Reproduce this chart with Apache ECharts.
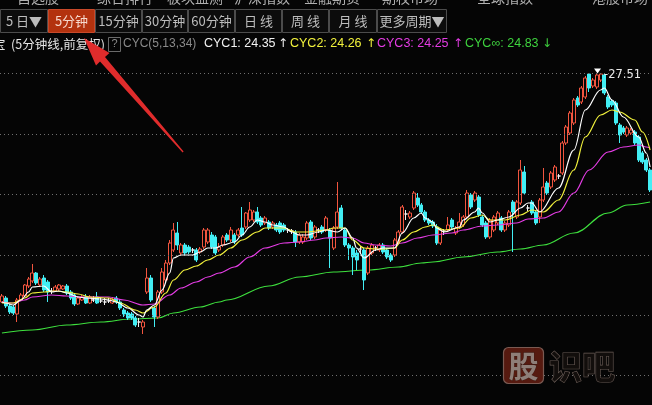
<!DOCTYPE html>
<html><head><meta charset="utf-8">
<script src="https://cdn.jsdelivr.net/npm/echarts@6/dist/echarts.min.js"></script>
<style>html,body{margin:0;padding:0;background:#050505;overflow:hidden}#c{width:652px;height:405px}</style>
</head><body><div id="c"></div>
<script>
// ---------- texts ----------
const topMenu = ['自选股','综合排行','板块监测','沪深指数','金融期货','期权市场','全球指数','港股市场'];
const periodTabs = ['5 日▼','5分钟','15分钟','30分钟','60分钟','日 线','周 线','月 线','更多周期▼'];
const selectedTab = '5分钟';
const stockTail = '宝';
const titleText = '(5分钟线,前复权)';
const indicatorName = 'CYC(5,13,34)';
const cycLegend = [['CYC1: 24.35','↑'],['CYC2: 24.26','↑'],['CYC3: 24.25','↑'],['CYC∞: 24.83','↓']];
const highLabel = '27.51';
const watermark = ['股','识吧'];

// ---------- candles: [open, close, low, high] ----------
const candles = [
[25.22,25.28,25.21,25.30],[25.26,25.18,25.16,25.28],[25.18,25.12,25.10,25.20],[25.17,25.11,25.09,25.19],
[25.10,25.24,25.02,25.26],[25.24,25.29,25.23,25.31],[25.28,25.39,25.27,25.40],[25.38,25.45,25.36,25.47],
[25.43,25.51,25.41,25.60],[25.51,25.41,25.39,25.52],[25.39,25.45,25.37,25.47],[25.46,25.34,25.32,25.49],
[25.42,25.32,25.22,25.44],[25.33,25.33,25.30,25.36],[25.33,25.37,25.32,25.39],[25.35,25.39,25.33,25.40],
[25.35,25.38,25.34,25.39],[25.38,25.31,25.29,25.40],[25.32,25.26,25.24,25.34],[25.29,25.20,25.18,25.31],
[25.20,25.26,25.19,25.28],[25.24,25.27,25.23,25.29],[25.27,25.21,25.20,25.30],[25.21,25.27,25.20,25.29],
[25.24,25.24,25.22,25.28],[25.27,25.21,25.20,25.32],[25.23,25.23,25.21,25.27],[25.22,25.22,25.19,25.26],
[25.23,25.23,25.21,25.26],
[25.21,25.25,25.20,25.27],[25.26,25.22,25.20,25.28],[25.22,25.16,25.14,25.25],[25.14,25.10,25.07,25.16],
[25.11,25.06,25.04,25.13],[25.10,25.06,25.04,25.12],[25.06,24.99,24.97,25.08],[25.02,25.02,24.97,25.06],
[24.97,25.02,24.90,25.04],[25.32,25.46,25.30,25.56],[25.46,25.24,25.22,25.49],[25.16,25.07,24.97,25.18],
[25.07,25.32,25.05,25.34],[25.32,25.52,25.30,25.56],[25.44,25.61,25.42,25.64],[25.61,25.81,25.59,25.84],
[25.74,25.94,25.72,26.01],[25.91,25.79,25.74,26.02],[25.71,25.79,25.69,25.81],[25.79,25.71,25.68,25.81],
[25.77,25.72,25.70,25.79],[25.74,25.74,25.71,25.76],[25.74,25.64,25.62,25.76],[25.72,25.75,25.70,25.77],
[25.77,25.94,25.75,25.96],[25.82,25.94,25.80,25.96],[25.89,25.77,25.75,25.92],[25.87,25.71,25.69,25.89],
[25.74,25.77,25.72,25.81],[25.79,25.87,25.77,25.89],[25.89,25.84,25.82,25.91],[25.84,25.94,25.82,25.97],
[25.89,25.82,25.80,25.91],[25.89,25.94,25.87,25.96],[25.96,25.89,25.87,26.17],[25.97,26.11,25.95,26.12],
[26.04,26.14,26.02,26.22],[26.04,26.12,26.02,26.14],[26.12,26.02,26.00,26.17],[26.06,25.99,25.97,26.08],
[26.01,26.06,25.99,26.08],[26.02,25.96,25.94,26.04],[25.97,26.01,25.95,26.03],[25.99,25.94,25.92,26.01],
[26.01,25.92,25.90,26.03],[25.99,25.94,25.92,26.01],[25.94,25.94,25.91,25.96],[25.93,25.93,25.90,25.95],
[25.92,25.82,25.77,25.94],[25.82,25.89,25.80,25.91],[25.82,25.87,25.80,25.90],[25.86,26.01,25.84,26.03],
[26.02,25.86,25.84,26.04],[25.87,25.97,25.85,25.99],[25.94,25.94,25.91,25.96],[25.97,25.92,25.90,25.99],
[25.94,26.06,25.92,26.08],[25.94,25.86,25.56,25.96],[25.76,25.96,25.74,25.98],[25.97,26.12,25.95,26.42],
[26.16,25.96,25.94,26.19],[25.94,25.79,25.77,25.96],[25.79,25.76,25.64,25.81],[25.76,25.67,25.49,25.78],
[25.71,25.64,25.54,25.74],[25.75,25.75,25.71,25.78],[25.74,25.44,25.34,25.76],[25.51,25.76,25.49,25.78],
[25.71,25.79,25.69,25.81],[25.76,25.76,25.73,25.78],[25.74,25.79,25.72,25.81],[25.79,25.72,25.70,25.81],
[25.74,25.67,25.65,25.76],[25.69,25.64,25.62,25.71],[25.69,25.84,25.67,25.86],[25.82,25.92,25.80,25.94],
[25.92,26.17,25.90,26.19],[26.10,26.10,26.04,26.14],[26.07,26.11,26.05,26.13],[26.16,26.31,26.14,26.33],
[26.26,26.19,26.17,26.31],[26.19,26.12,26.10,26.21],[26.12,26.04,26.02,26.14],[26.04,26.01,25.99,26.06],
[26.02,25.98,25.96,26.04],[25.97,25.81,25.79,26.00],[25.81,25.94,25.79,25.96],[25.93,25.93,25.89,25.95],
[25.94,25.99,25.92,26.07],[26.04,25.97,25.95,26.06],[25.91,25.96,25.89,25.98],[25.97,26.02,25.95,26.11],
[25.99,26.07,25.97,26.09],[26.07,26.31,26.05,26.34],[26.29,26.17,26.15,26.31],[26.24,26.31,26.22,26.33],
[26.27,26.09,26.07,26.29],[26.07,25.99,25.97,26.09],[26.01,25.87,25.85,26.03],[25.87,26.04,25.85,26.06],
[25.94,26.07,25.92,26.09],[26.01,26.11,25.99,26.13],[26.06,25.94,25.92,26.08],[25.94,26.01,25.92,26.03],
[25.99,26.12,25.97,26.14],[26.22,26.12,25.72,26.24],[26.07,26.22,26.05,26.24],[26.21,26.54,26.19,26.64],
[26.52,26.31,26.29,26.58],[26.16,26.16,26.13,26.19],[26.22,26.11,26.09,26.24],[26.12,26.01,25.99,26.14],
[26.07,26.24,26.01,26.26],[26.24,26.37,26.22,26.56],[26.41,26.31,26.29,26.43],[26.37,26.51,26.35,26.53],
[26.44,26.57,26.42,26.59],[26.48,26.48,26.45,26.50],[26.51,26.81,26.49,26.83],[26.81,26.97,26.79,26.99],
[26.91,27.11,26.89,27.13],[27.01,27.24,26.99,27.26],[27.26,27.19,27.17,27.28],[27.22,27.36,27.20,27.38],
[27.27,27.46,27.25,27.48],[27.50,27.36,27.32,27.50],[27.38,27.44,27.36,27.46],[27.37,27.49,27.35,27.50],
[27.44,27.50,27.42,27.51],[27.49,27.31,27.29,27.50],[27.27,27.17,27.15,27.29],[27.23,27.19,27.17,27.25],
[27.21,27.01,26.99,27.23],[26.99,26.89,26.81,27.01],[26.96,26.92,26.90,26.98],[26.89,26.96,26.87,26.98],
[26.91,26.94,26.89,26.96],[26.92,26.81,26.79,26.94],[26.87,26.64,26.62,26.89],[26.71,26.62,26.60,26.73],
[26.64,26.54,26.52,26.66],[26.54,26.34,26.32,26.56]
];

// ---------- indicator lines: [barIndex, value] ----------
const cyc1 = [[0,25.22],[1,25.21],[3,25.19],[5,25.24],[7,25.32],[8,25.37],[11,25.38],[13,25.32],[15,25.33],[17,25.31],[20,25.27],[22,25.26],[26,25.25],[28,25.24],[30,25.22],[33,25.16],[36,25.09],[37,25.07],[38,25.14],[40,25.19],[42,25.34],[44,25.51],[45,25.66],[47,25.69],[50,25.69],[52,25.72],[54,25.76],[56,25.76],[58,25.79],[61,25.82],[63,25.89],[65,25.97],[67,26.04],[69,26.02],[71,25.99],[74,25.97],[76,25.92],[78,25.89],[80,25.89],[83,25.92],[85,25.94],[88,25.92],[90,25.96],[92,25.86],[93,25.76],[95,25.66],[98,25.74],[100,25.76],[103,25.76],[105,25.91],[108,26.06],[110,26.11],[111,26.06],[113,26.02],[114,25.96],[116,25.92],[120,25.97],[121,26.04],[124,26.12],[125,26.16],[126,26.11],[128,26.02],[130,26.04],[133,26.07],[136,26.16],[138,26.21],[139,26.21],[141,26.12],[146,26.36],[150,26.74],[153,27.14],[157,27.34],[158,27.36],[160,27.24],[163,27.07],[167,26.87],[169,26.71],[170,26.57]];
const cyc2 = [[0,25.21],[3,25.21],[6,25.26],[8,25.31],[11,25.32],[14,25.33],[17,25.32],[20,25.30],[23,25.27],[28,25.26],[31,25.21],[35,25.14],[37,25.11],[40,25.17],[43,25.31],[45,25.44],[48,25.54],[51,25.58],[54,25.64],[57,25.69],[60,25.76],[63,25.84],[67,25.92],[69,25.96],[74,25.96],[77,25.92],[80,25.92],[85,25.94],[87,25.96],[90,25.96],[92,25.84],[95,25.76],[98,25.75],[100,25.75],[103,25.76],[105,25.84],[108,25.92],[111,25.97],[113,25.99],[116,25.94],[120,25.96],[123,26.06],[126,26.09],[128,26.04],[132,26.04],[136,26.09],[139,26.14],[142,26.12],[146,26.24],[150,26.54],[153,26.87],[157,27.09],[160,27.14],[162,27.12],[166,27.04],[168,26.92],[170,26.74]];
const cyc3 = [[0,25.22],[3,25.21],[6,25.24],[8,25.27],[13,25.29],[17,25.28],[21,25.27],[28,25.27],[32,25.24],[37,25.19],[40,25.20],[44,25.29],[47,25.36],[51,25.42],[54,25.47],[57,25.51],[61,25.57],[65,25.67],[69,25.76],[74,25.81],[78,25.82],[82,25.84],[85,25.86],[89,25.87],[92,25.86],[95,25.81],[98,25.79],[102,25.78],[105,25.81],[109,25.86],[113,25.89],[118,25.91],[121,25.94],[126,25.98],[130,25.99],[135,26.01],[138,26.05],[142,26.06],[146,26.12],[150,26.31],[154,26.54],[159,26.72],[163,26.77],[167,26.79],[169,26.77],[170,26.76]];
const cycInf = [[0,24.91],[8,24.94],[17,24.99],[26,25.02],[34,25.05],[41,25.06],[45,25.11],[52,25.17],[57,25.22],[59,25.24],[70,25.38],[78,25.47],[87,25.52],[96,25.54],[104,25.57],[110,25.61],[113,25.62],[121,25.67],[130,25.72],[136,25.75],[142,25.79],[150,25.91],[159,26.11],[164,26.19],[170,26.22]];

// ---------- build ----------
const categories = candles.map((d, i) => {
  const slot = i % 48, m = slot < 24 ? 9*60+35 + slot*5 : 13*60+5 + (slot-24)*5;
  return String(Math.floor(m/60)).padStart(2,'0') + ':' + String(m%60).padStart(2,'0');
});
let highIdx = 0;
candles.forEach((d, i) => { if (d[3] > candles[highIdx][3]) highIdx = i; });
const highVal = candles[highIdx][3];

const yMin = 24.486, yMax = 28.114, gridStep = 0.604;
const gridLevels = [];
for (let k = 0; k < 6; k++) gridLevels.push(+(yMin + k * gridStep).toFixed(3));

const UP = '#f2553f', DOWN = '#42eef4';
const cjk = '"Noto Sans CJK SC"';
const latin = '"Liberation Sans", "Noto Sans CJK SC"';

function mkLine(data, color, z, extra) {
  return Object.assign({ type: 'line', data, smooth: 0.35, smoothMonotone: 'x', showSymbol: false, symbol: 'none',
    lineStyle: { color, width: 1.2 }, z, silent: true, animation: false }, extra || {});
}

// graphic header
const g = [];
g.push({ type: 'rect', shape: { x: 0, y: 0, width: 652, height: 33 }, style: { fill: '#050505' }, z: 100 });
const menuX = [38, 125, 195, 262, 332, 410, 505, 620];
topMenu.forEach((t, i) => g.push({ type: 'text', x: menuX[i], y: -2, z: 101,
  style: { text: t, fill: '#b0b0b0', font: '14px ' + cjk, align: 'center', verticalAlign: 'middle' } }));
const tabEdges = [0, 48, 95, 142, 188, 235, 282, 329, 377, 447];
periodTabs.forEach((t, i) => {
  const x0 = tabEdges[i], x1 = tabEdges[i + 1], sel = t === selectedTab;
  g.push({ type: 'rect', z: 101, shape: { x: x0 + 0.5, y: 9.5, width: x1 - x0 - 1, height: 23 },
    style: { fill: sel ? '#b3320e' : '#0c0c0c', stroke: sel ? '#c8492a' : '#4c4c4c', lineWidth: 1 } });
  g.push({ type: 'text', z: 102, x: (x0 + x1) / 2, y: 21.5,
    style: { text: t, fill: sel ? '#f6d8cc' : '#bdbdbd', font: '13px ' + cjk, align: 'center', verticalAlign: 'middle' } });
});
// info row
const rowY = 44;
g.push({ type: 'text', z: 101, x: -7, y: rowY, style: { text: stockTail, fill: '#e6e6e6', font: '12.5px ' + cjk, verticalAlign: 'middle' } });
g.push({ type: 'text', z: 101, x: 11, y: rowY, style: { text: titleText, fill: '#e6e6e6', font: '12.5px ' + cjk, verticalAlign: 'middle' } });
g.push({ type: 'rect', z: 101, shape: { x: 108.5, y: 37.5, width: 12, height: 14 }, style: { fill: 'none', stroke: '#6a6a6a', lineWidth: 1 } });
g.push({ type: 'text', z: 101, x: 114.5, y: rowY, style: { text: '?', fill: '#8c8c8c', font: '11px ' + latin, align: 'center', verticalAlign: 'middle' } });
g.push({ type: 'text', z: 101, x: 123, y: rowY, style: { text: indicatorName, fill: '#8a8a8a', font: '12px ' + latin, verticalAlign: 'middle' } });
const legColors = ['#f2f2f2', '#f2f23c', '#e43ce4', '#3ed23e'];
const legX = [204, 290, 377, 465], arrX = [278, 366, 453, 542];
cycLegend.forEach((l, i) => {
  g.push({ type: 'text', z: 101, x: legX[i], y: rowY, style: { text: l[0], fill: legColors[i], font: '12.5px ' + latin, verticalAlign: 'middle' } });
  g.push({ type: 'text', z: 101, x: arrX[i], y: rowY, style: { text: l[1], fill: legColors[i], font: '12px "DejaVu Sans"', verticalAlign: 'middle' } });
});
// red arrow annotation
g.push({ type: 'polygon', z: 110, shape: { points: [[84, 38], [109.5, 53], [105, 57], [183.6, 151.4], [182.6, 152.4], [100, 61.5], [96, 65.5]] },
  style: { fill: '#e02c2c' } });
// watermark
g.push({ type: 'rect', z: 90, shape: { x: 503.5, y: 347.5, width: 40, height: 36, r: 5 }, style: { fill: '#561a10', stroke: '#7a5a52', lineWidth: 1.2 } });
g.push({ type: 'text', z: 91, x: 523.5, y: 366, style: { text: watermark[0], fill: '#8e7e78', stroke: '#3a1a14', lineWidth: 0.8, font: 'bold 30px ' + cjk, align: 'center', verticalAlign: 'middle' } });
g.push({ type: 'text', z: 91, x: 549, y: 366, style: { text: watermark[1], fill: '#120e0c', stroke: '#6a5c56', lineWidth: 1.2, font: 'bold 33px ' + cjk, verticalAlign: 'middle' } });

const option = {
  backgroundColor: '#050505',
  animation: false,
  grid: { left: 0, right: 0, top: 12.6, bottom: 29.6 },
  xAxis: { type: 'category', data: categories, boundaryGap: true, show: false },
  yAxis: { type: 'value', min: yMin, max: yMax, show: false, splitLine: { show: false } },
  series: [
    mkLine(cycInf, '#3ee03e', 3, {
      markLine: { silent: true, symbol: ['none', 'none'], label: { show: false }, animation: false,
        lineStyle: { color: '#707070', type: [1, 3], width: 1 },
        emphasis: { disabled: true },
        data: gridLevels.map(v => ({ yAxis: v })) }
    }),
    {
      type: 'candlestick', data: candles, barWidth: 3.5, z: 4, silent: true, animation: false,
      emphasis: { disabled: true },
      itemStyle: { color: '#050505', color0: DOWN, borderColor: UP, borderColor0: DOWN, borderColorDoji: '#f2f2f2', borderWidth: 1 },
      markPoint: {
        symbol: 'triangle', symbolRotate: 180, symbolSize: [7, 5], symbolOffset: [-3, -2],
        itemStyle: { color: '#ffffff' }, animation: false, silent: true,
        label: { show: true, position: 'right', distance: 3, offset: [0, 4], formatter: '-' + highLabel,
          color: '#e8e8e8', fontSize: 11.5, fontFamily: 'DejaVu Sans' },
        data: [{ coord: [highIdx, highVal] }]
      }
    },
    mkLine(cyc3, '#e43ce4', 5),
    mkLine(cyc2, '#f2f23c', 6),
    mkLine(cyc1, '#ffffff', 7)
  ],
  graphic: { elements: g }
};
const chart = echarts.init(document.getElementById('c'), null, { renderer: 'canvas', width: 652, height: 405 });
chart.setOption(option);
</script></body></html>
